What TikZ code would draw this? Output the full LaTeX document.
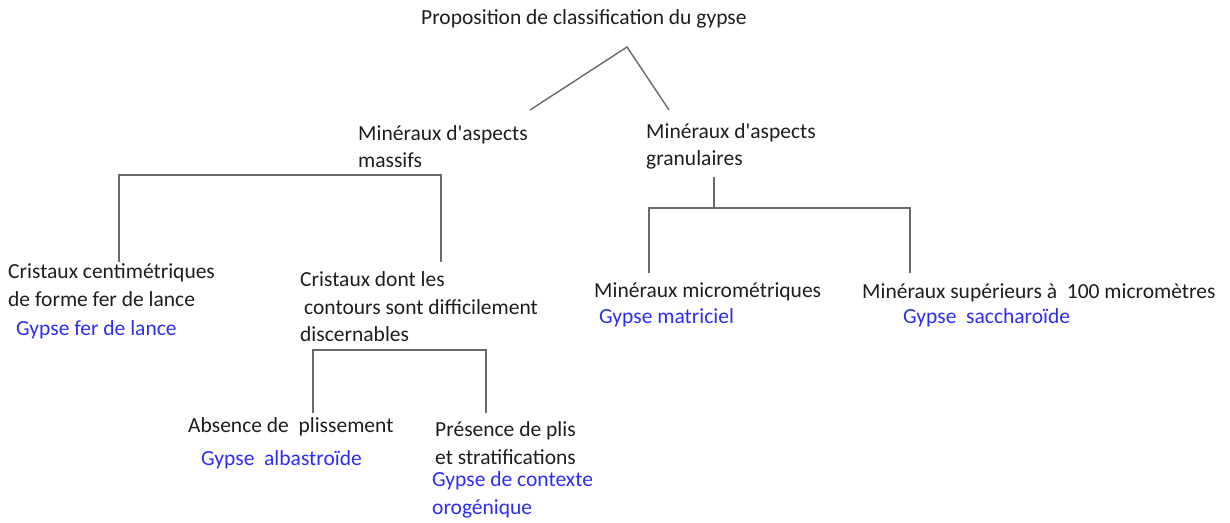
\documentclass[tikz,border=0pt]{standalone}
\usepackage{fontspec}
\newfontfamily\calfont{Carlito}
\definecolor{blueish}{RGB}{45,45,250}
\definecolor{ink}{RGB}{30,30,30}
\definecolor{linegray}{RGB}{105,105,105}
\begin{document}
\begin{tikzpicture}[x=1pt,y=-1pt,
  txt/.style={inner sep=0pt, anchor=west, align=left, font=\calfont\fontsize{21.5}{27.5}\selectfont, text=ink},
  res/.style={txt, text=blueish},
  link/.style={draw=linegray, line width=1.4pt}]
\useasboundingbox (0,0) rectangle (1230,522);
% text nodes
\node[txt] (title) at (421,19) {Proposition de classification du gypse};
\node[txt] (massifs) at (358,146.5) {Minéraux d'aspects\\massifs};
\node[txt] (granul) at (646,146.5) {Minéraux d'aspects\\granulaires};
\node[txt] (centi) at (8,285) {Cristaux centimétriques\\de forme fer de lance};
\node[res] (fer) at (16,330) {Gypse fer de lance};
\node[txt] (contours) at (300,307) {Cristaux dont les\\\hspace{4pt}contours sont difficilement\\discernables};
\node[txt] (micro) at (594,292) {Minéraux micrométriques};
\node[res] (matri) at (599,318) {Gypse matriciel};
\node[txt] (sup) at (862,293) {Minéraux supérieurs à\ \ 100 micromètres};
\node[res] (sacch) at (903,318) {Gypse\ \ saccharoïde};
\node[txt] (absence) at (188,427) {Absence de\ \ plissement};
\node[res] (alba) at (201,460) {Gypse\ \ albastroïde};
\node[txt] (presence) at (435,443) {Présence de plis\\et stratifications};
\node[res] (oro) at (432,495) {Gypse de contexte\\orogénique};
% connector points
\coordinate (apex) at (627,47);
\coordinate (mTop) at (530,110);
\coordinate (gTop) at (669,110);
\coordinate (mL) at (119,175);
\coordinate (mR) at (441,175);
\coordinate (centiTop) at (119,262);
\coordinate (contTop) at (441,262);
\coordinate (gStem) at (714,177);
\coordinate (gMid) at (714,208);
\coordinate (gL) at (649,208);
\coordinate (gR) at (910,208);
\coordinate (microTop) at (649,273);
\coordinate (supTop) at (910,273);
\coordinate (cL) at (313,350);
\coordinate (cR) at (486,350);
\coordinate (absTop) at (313,413);
\coordinate (presTop) at (486,413);
% connectors
\draw[link] (mTop) -- (apex) -- (gTop);
\draw[link] (centiTop) -- (mL) -- (mR) -- (contTop);
\draw[link] (gStem) -- (gMid);
\draw[link] (microTop) -- (gL) -- (gR) -- (supTop);
\draw[link] (absTop) -- (cL) -- (cR) -- (presTop);
\end{tikzpicture}
\end{document}
